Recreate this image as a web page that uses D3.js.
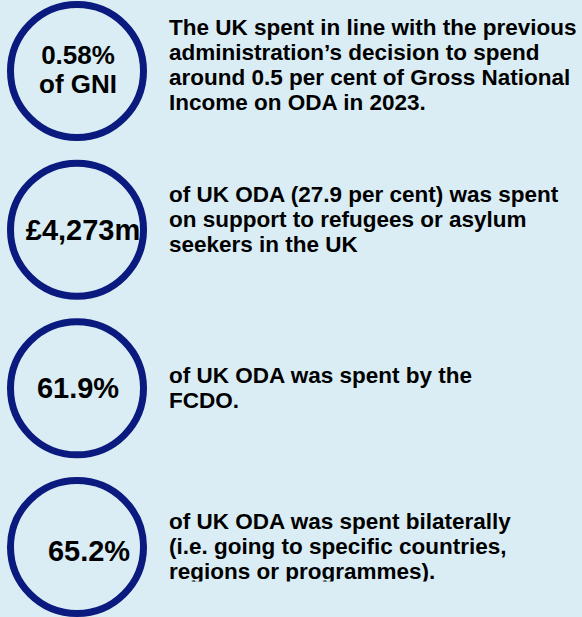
<!DOCTYPE html>
<html>
<head>
<meta charset="utf-8">
<script src="https://cdn.jsdelivr.net/npm/d3@7"></script>
<style>
  html, body { margin: 0; padding: 0; background: #daedf4; }
  svg { display: block; }
  text { font-family: "Liberation Sans", Arial, sans-serif; font-weight: bold; fill: #000; }
</style>
</head>
<body>
<div id="chart"></div>
<script>
const width = 582;
const height = 617;

// headline figure inside each circle
const figures = [
  ["0.58%", "of GNI"],
  ["£4,273m"],
  ["61.9%"],
  ["65.2%"]
];

// text beside each circle
const notes = [
  ["The UK spent in line with the previous",
   "administration’s decision to spend",
   "around 0.5 per cent of Gross National",
   "Income on ODA in 2023."],
  ["of UK ODA (27.9 per cent) was spent",
   "on support to refugees or asylum",
   "seekers in the UK"],
  ["of UK ODA was spent by the",
   "FCDO."],
  ["of UK ODA was spent bilaterally",
   "(i.e. going to specific countries,",
   "regions or programmes)."]
];

// layout tweaks, per row (kept apart from the data)
const figSize = [26, 29, 29, 29];
const figDx = [1, 6, 1, 12];
const figDy = [-7, 10, 10, 14];
const noteDy = [-36, -28, -5, -18];

const navy = "#0a1a7e";
const cx = 77;
const r = 66.5;
const lineH = 25;
const noteX = 169;

const y = d3.scalePoint()
  .domain(d3.range(figures.length))
  .range([71, 547]);

const svg = d3.select("#chart").append("svg")
  .attr("width", width)
  .attr("height", height);

// text box ends just under the last line, cutting the descenders
svg.append("clipPath")
  .attr("id", "noteClip")
  .append("rect")
  .attr("x", 0).attr("y", 0)
  .attr("width", width).attr("height", 581.5);

const rows = svg.selectAll("g.row")
  .data(figures)
  .enter()
  .append("g")
  .attr("class", "row")
  .attr("transform", (d, i) => `translate(0,${y(i)})`);

rows.append("circle")
  .attr("cx", cx)
  .attr("cy", 0)
  .attr("r", r)
  .attr("fill", "none")
  .attr("stroke", navy)
  .attr("stroke-width", 7);

rows.each(function(d, i) {
  const g = d3.select(this);
  const t = g.append("text")
    .attr("text-anchor", "middle")
    .style("font-size", figSize[i] + "px");
  t.selectAll("tspan")
    .data(d)
    .enter()
    .append("tspan")
    .attr("x", cx + figDx[i])
    .attr("y", (s, k) => figDy[i] + k * 29)
    .text(s => s);
});

const noteG = svg.append("g").attr("clip-path", "url(#noteClip)");

noteG.selectAll("text")
  .data(notes)
  .enter()
  .append("text")
  .style("font-size", "22.5px")
  .each(function(d, i) {
    d3.select(this).selectAll("tspan")
      .data(d)
      .enter()
      .append("tspan")
      .attr("x", noteX)
      .attr("y", (s, k) => y(i) + noteDy[i] + k * lineH)
      .text(s => s);
  });
</script>
</body>
</html>
